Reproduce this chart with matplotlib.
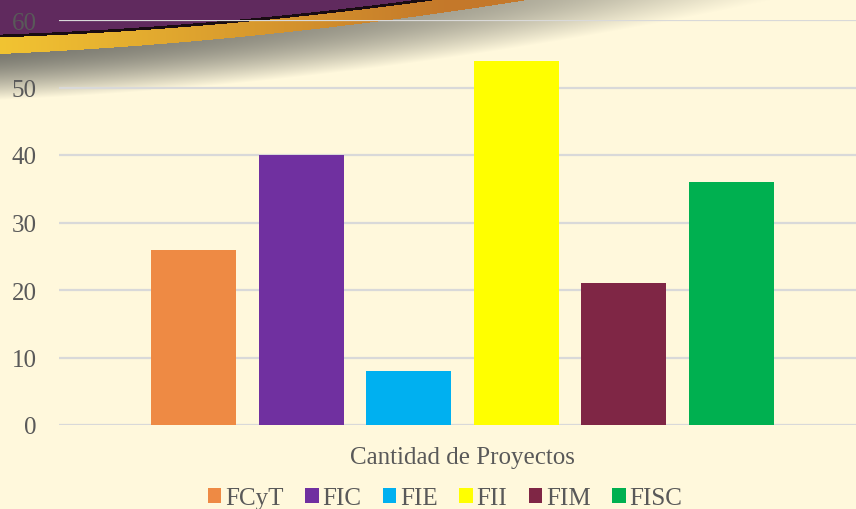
import numpy as np
import matplotlib
matplotlib.use('Agg')
import matplotlib.pyplot as plt
from matplotlib.patches import Patch

# Data
categories = ['FCyT', 'FIC', 'FIE', 'FII', 'FIM', 'FISC']
proyectos = [26, 40, 8, 54, 21, 36]
colors = ['#EE8A44', '#7030A0', '#00B0F0', '#FFFF00', '#7F2645', '#00B050']
yticks = [0, 10, 20, 30, 40, 50, 60]

plt.rcParams['font.family'] = ['Liberation Serif', 'DejaVu Serif']

W, H = 856, 510
fig = plt.figure(figsize=(W / 100, H / 100), dpi=100)

# background with decorative swoosh in the top-left
bg = fig.add_axes([0, 0, 1, 1])
xx, yy = np.meshgrid(np.arange(W) + 0.5, np.arange(H) + 0.5)
cream = np.array([255, 248, 220]) / 255.0
purple = np.array([96, 42, 94]) / 255.0
gold_a = np.array([242, 196, 50]) / 255.0
gold_b = np.array([196, 120, 42]) / 255.0
img = np.ones((H, W, 3)) * cream

y_black = 37 - 0.0347 * xx - 0.0001174 * xx ** 2
y_gold = 55 - 0.0445 * xx - 0.00011 * xx ** 2

# shadow below the gold band
d = np.clip(yy - y_gold, 0, None)
fade_x = np.clip(1 - xx / 820.0, 0, None) ** 0.5
shade = np.clip(1 - (d / 46.0) ** 1.5, 0, 1) * 0.88 * fade_x
gray = np.array([105, 105, 98]) / 255.0
img = img * (1 - shade[..., None]) + gray * shade[..., None]

gold_mask = (yy < y_gold) & (yy >= y_black)
mix = np.clip(xx / 450.0, 0, 1)[..., None]
gold_col = gold_a * (1 - mix) + gold_b * mix
img = np.where(gold_mask[..., None], gold_col, img)
img = np.where((yy < y_black)[..., None], purple, img)
line_mask = np.abs(yy - y_black) < 1.4
img = np.where(line_mask[..., None], np.array([25, 12, 18]) / 255.0, img)

bg.imshow(img, extent=[0, W, H, 0], aspect='auto', interpolation='bilinear')
bg.set_xlim(0, W)
bg.set_ylim(H, 0)
bg.axis('off')

# main chart
ax = fig.add_axes([59 / W, 84 / H, 807 / W, 405 / H])
ax.set_facecolor('none')
x = np.arange(len(categories))
ax.bar(x, proyectos, width=0.79, color=colors, zorder=3)

ax.set_ylim(0, 60)
ax.set_xlim(-1.25, 6.25)
ax.set_yticks(yticks)
ax.set_xticks([])
ax.yaxis.grid(True, color='#D9D9D9', linewidth=1.6, zorder=0)
for s in ax.spines.values():
    s.set_visible(False)
ax.tick_params(axis='y', length=0, pad=16, labelsize=18, labelcolor='#595959')

ax.set_xlabel('Cantidad de Proyectos', fontsize=18, color='#595959', labelpad=15)

handles = [Patch(facecolor=c, label=n) for c, n in zip(colors, categories)]
fig.legend(handles=handles, loc='lower center', bbox_to_anchor=(445 / W, -0.045),
           ncol=6, frameon=False, fontsize=18, handlelength=0.55, handleheight=0.55,
           handletextpad=0.15, columnspacing=0.85, labelcolor='#595959')

fig.savefig('out.png', dpi=100)
